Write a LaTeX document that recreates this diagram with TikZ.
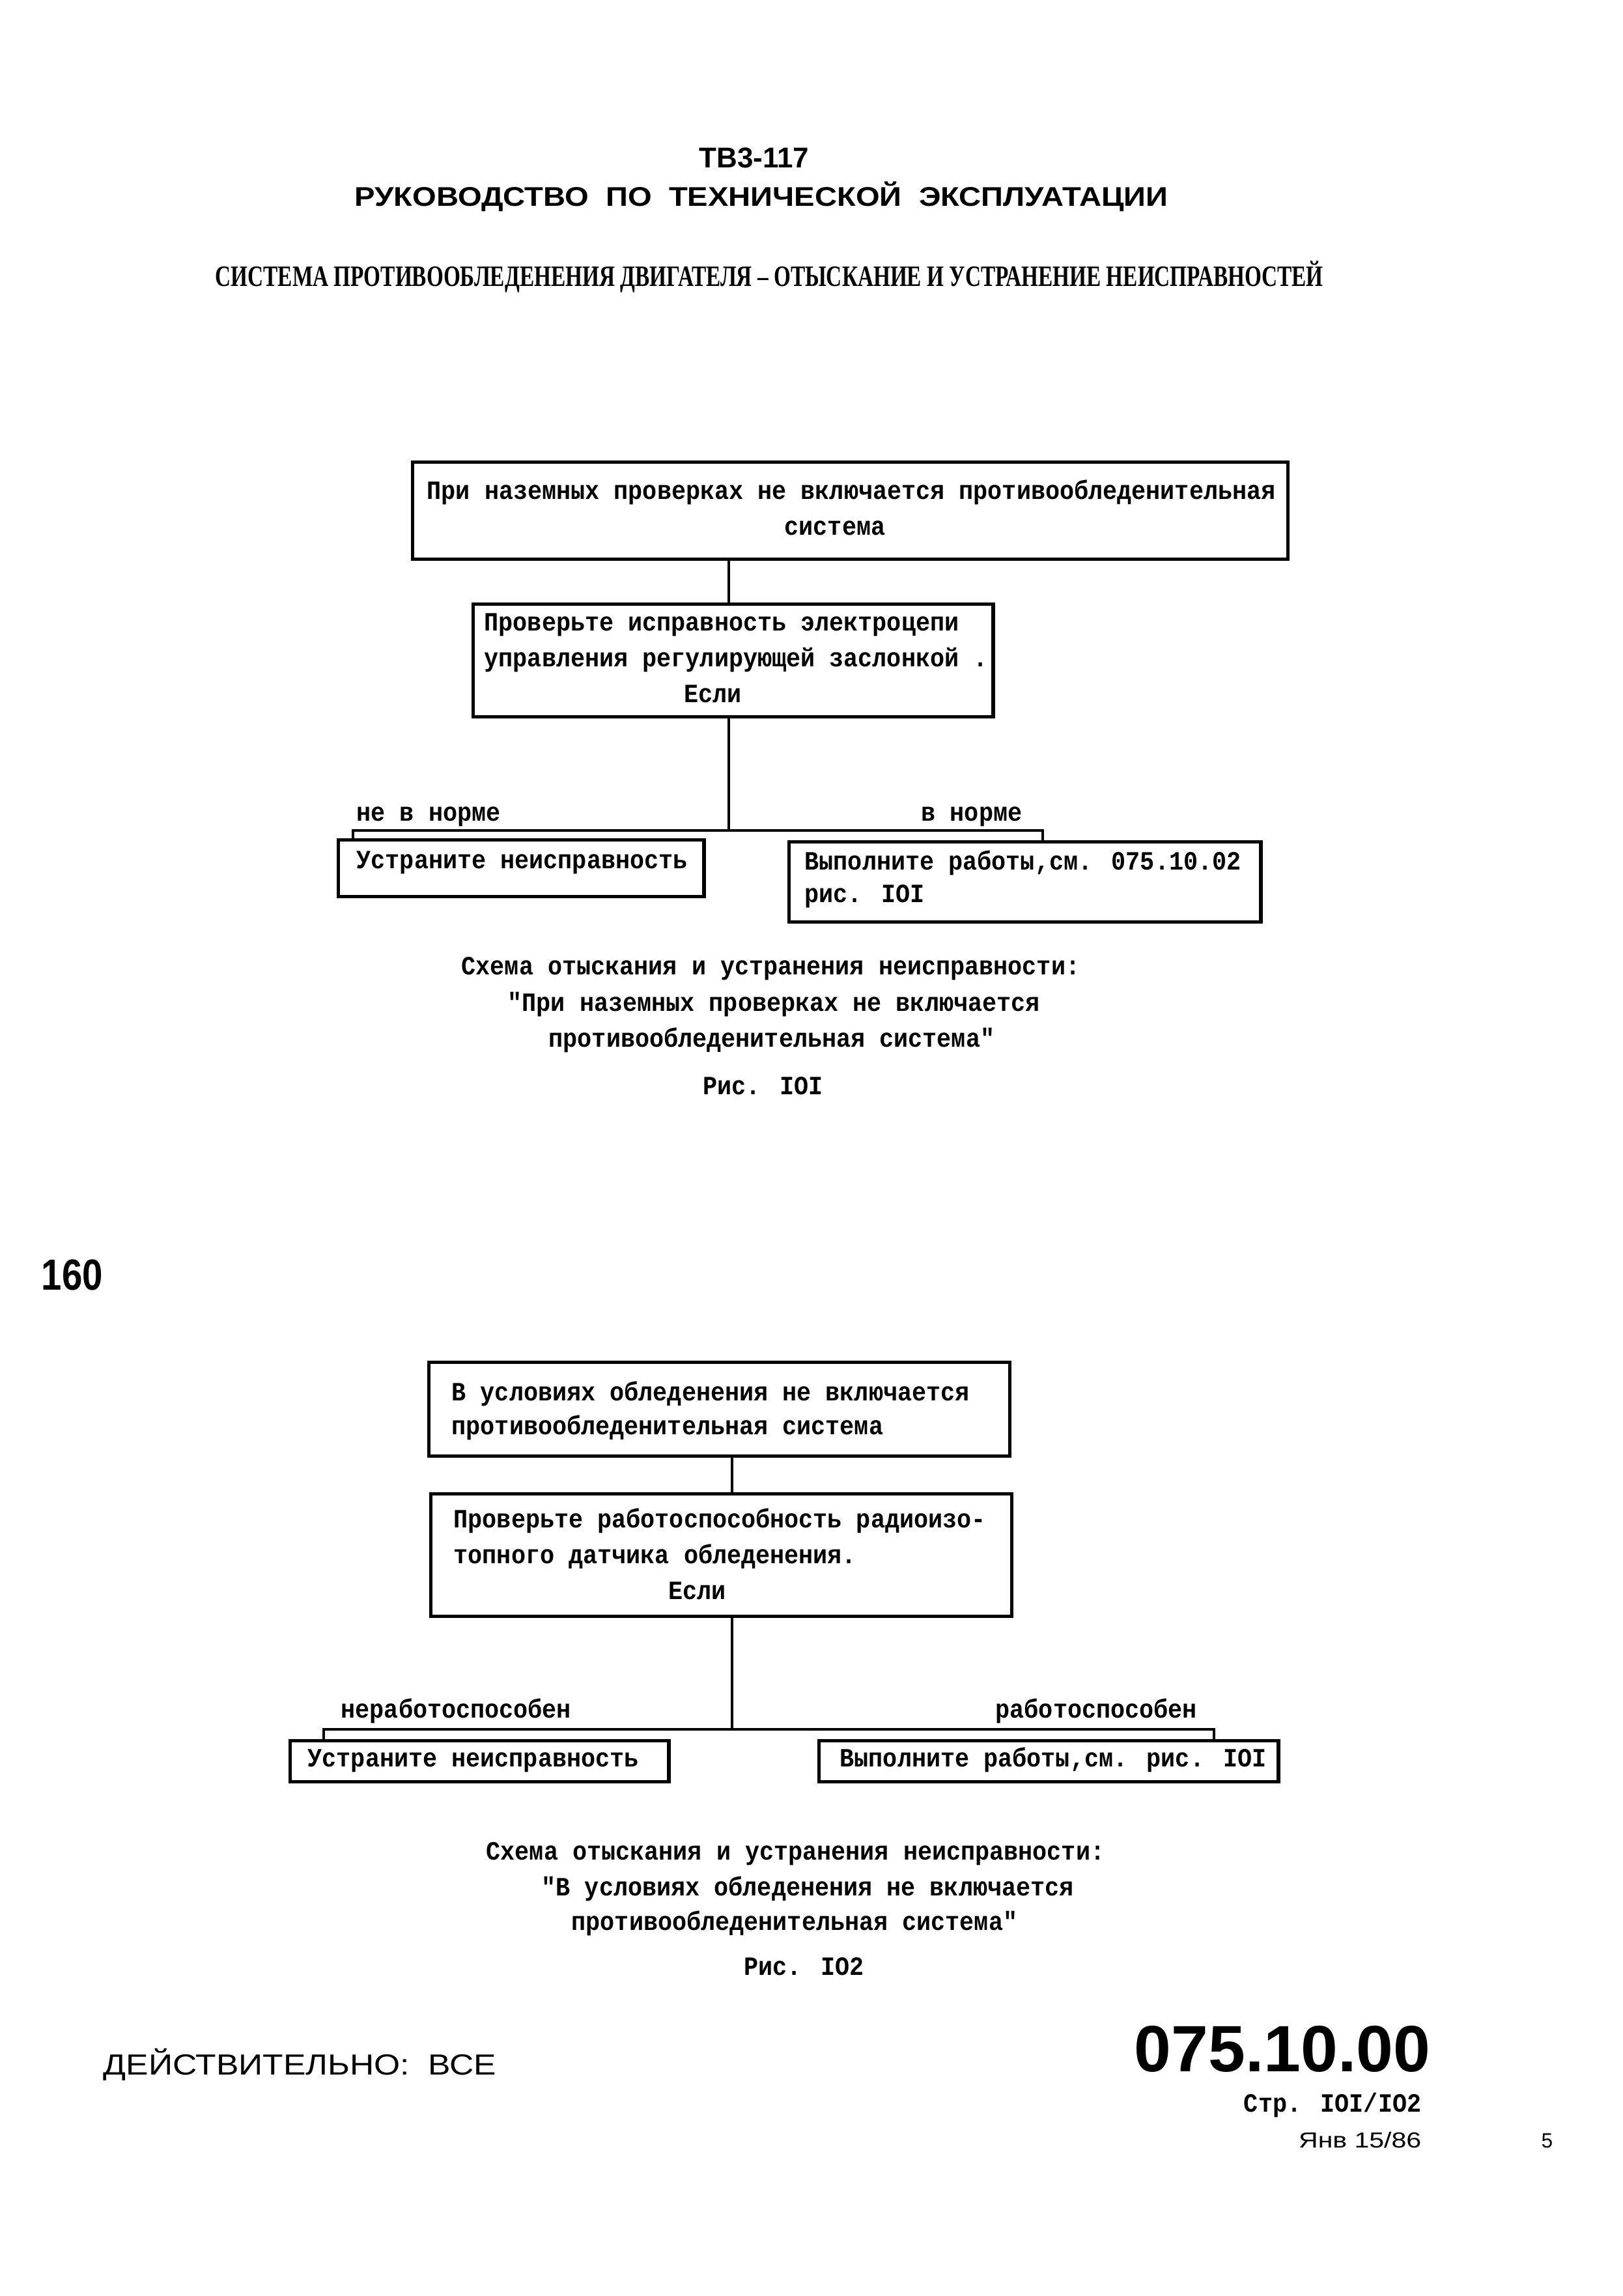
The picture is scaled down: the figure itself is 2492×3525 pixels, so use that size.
\documentclass[tikz,border=0pt]{standalone}
\usepackage{fontspec}
\usepackage{graphicx}
\newfontfamily\tw[FakeStretch=0.91]{Liberation Mono}
\newfontfamily\hv{Liberation Sans}
\newfontfamily\srf{Liberation Serif}
\newcommand\fitto[2]{\resizebox{#1}{\height}{#2}}
\tikzset{
  box/.style={draw, line width=1.5pt, inner sep=0pt, anchor=north west},
  conn/.style={line width=1.0pt},
  tt/.style={anchor=base west, inner sep=0pt, font=\tw\bfseries\fontsize{11.5}{13}\selectfont},
  lbl/.style={anchor=base west, inner sep=0pt},
}
\begin{document}
\begin{tikzpicture}[x=0.01cm, y=-0.01cm]
\useasboundingbox[fill=white] (0,0) rectangle (2492,3525);

% header
\node[anchor=base, inner sep=0pt, font=\hv\bfseries\fontsize{12.5}{14}\selectfont] (h1) at (1158,258) {ТВ3-117};
\node[lbl] (h2) at (544,317) {\fitto{12.48cm}{\hv\bfseries\fontsize{11.8}{13}\selectfont РУКОВОДСТВО~~ПО~~ТЕХНИЧЕСКОЙ~~ЭКСПЛУАТАЦИИ}};
\node[lbl] (h3) at (330,440) {\fitto{17.0cm}{\srf\bfseries\fontsize{12.9}{14}\selectfont СИСТЕМА ПРОТИВООБЛЕДЕНЕНИЯ ДВИГАТЕЛЯ – ОТЫСКАНИЕ И УСТРАНЕНИЕ НЕИСПРАВНОСТЕЙ}};

% diagram 1
\node[box, minimum width=13.43cm, minimum height=1.49cm] (b1) at (631,707) {};
\node[tt] (b1t1) at (655,767) {При наземных проверках не включается противообледенительная};
\node[tt] (b1t2) at (1204,822) {система};
\node[box, minimum width=7.98cm, minimum height=1.73cm] (b2) at (724,925) {};
\node[tt] (b2t1) at (743,968) {Проверьте исправность электроцепи};
\node[tt] (b2t2) at (743,1023) {управления регулирующей заслонкой .};
\node[tt] (b2t3) at (1050,1078) {Если};
\node[box, minimum width=5.61cm, minimum height=0.87cm] (b3) at (517,1287) {};
\node[tt] (b3t1) at (547,1333) {Устраните неисправность};
\node[box, minimum width=7.24cm, minimum height=1.23cm] (b4) at (1209,1290) {};
\node[tt] (b4t1) at (1235,1335) {Выполните работы,см. 075.10.02};
\node[tt] (b4t2) at (1235,1385) {рис. IOI};
\node[tt] (n1) at (547,1260) {не в норме};
\node[tt] (y1) at (1414,1260) {в норме};
\coordinate (j1) at (1119,1275);
\coordinate (l1) at (542,1275);
\coordinate (r1) at (1601,1275);
\draw[conn] (b1.south -| j1) -- (b2.north -| j1);
\draw[conn] (b2.south -| j1) -- (j1);
\draw[conn] (b3.north -| l1) -- (l1) -- (r1) -- (b4.north -| r1);

% caption 1
\node[tt] (c1a) at (708,1496) {Схема отыскания и устранения неисправности:};
\node[tt] (c1b) at (779,1552) {"При наземных проверках не включается};
\node[tt] (c1c) at (842,1607) {противообледенительная система"};
\node[tt] (c1d) at (1079,1680) {Рис. IOI};

% handwritten page number
\node[lbl] (hw) at (63,1980) {\fitto{0.94cm}{\hv\bfseries\fontsize{19}{22}\selectfont 160}};

% diagram 2
\node[box, minimum width=8.91cm, minimum height=1.44cm] (bA) at (656,2089) {};
\node[tt] (bAt1) at (693,2150) {В условиях обледенения не включается};
\node[tt] (bAt2) at (693,2202) {противообледенительная система};
\node[box, minimum width=8.91cm, minimum height=1.88cm] (bB) at (659,2291) {};
\node[tt] (bBt1) at (696,2345) {Проверьте работоспособность радиоизо-};
\node[tt] (bBt2) at (696,2400) {топного датчика обледенения.};
\node[tt] (bBt3) at (1026,2455) {Если};
\node[box, minimum width=5.81cm, minimum height=0.63cm] (bC) at (443,2670) {};
\node[tt] (bCt1) at (472,2712) {Устраните неисправность};
\node[box, minimum width=7.05cm, minimum height=0.63cm] (bD) at (1255,2670) {};
\node[tt] (bDt1) at (1289,2712) {Выполните работы,см. рис. IOI};
\node[tt] (n2) at (523,2637) {неработоспособен};
\node[tt] (y2) at (1528,2637) {работоспособен};
\coordinate (j2) at (1124,2655);
\coordinate (l2) at (497,2655);
\coordinate (r2) at (1864,2655);
\draw[conn] (bA.south -| j2) -- (bB.north -| j2);
\draw[conn] (bB.south -| j2) -- (j2);
\draw[conn] (bC.north -| l2) -- (l2) -- (r2) -- (bD.north -| r2);

% caption 2
\node[tt] (c2a) at (746,2855) {Схема отыскания и устранения неисправности:};
\node[tt] (c2b) at (831,2910) {"В условиях обледенения не включается};
\node[tt] (c2c) at (877,2963) {противообледенительная система"};
\node[tt] (c2d) at (1142,3032) {Рис. IO2};

% footer
\node[lbl] (f1) at (158,3185) {\fitto{6.03cm}{\hv\fontsize{12.7}{14}\selectfont ДЕЙСТВИТЕЛЬНО:~~ВСЕ}};
\node[lbl] (f2) at (1741,3180) {\fitto{4.54cm}{\hv\bfseries\fontsize{28.6}{30}\selectfont 075.10.00}};
\node[tt, anchor=base east] (f3) at (2183,3242) {Стр. IOI/IO2};
\node[lbl, anchor=base east] (f4) at (2183,3297) {\fitto{1.88cm}{\hv\fontsize{9.5}{11}\selectfont Янв 15/86}};
\node[lbl, font=\hv\fontsize{9}{11}\selectfont] (f5) at (2366,3297) {5};
\end{tikzpicture}
\end{document}
